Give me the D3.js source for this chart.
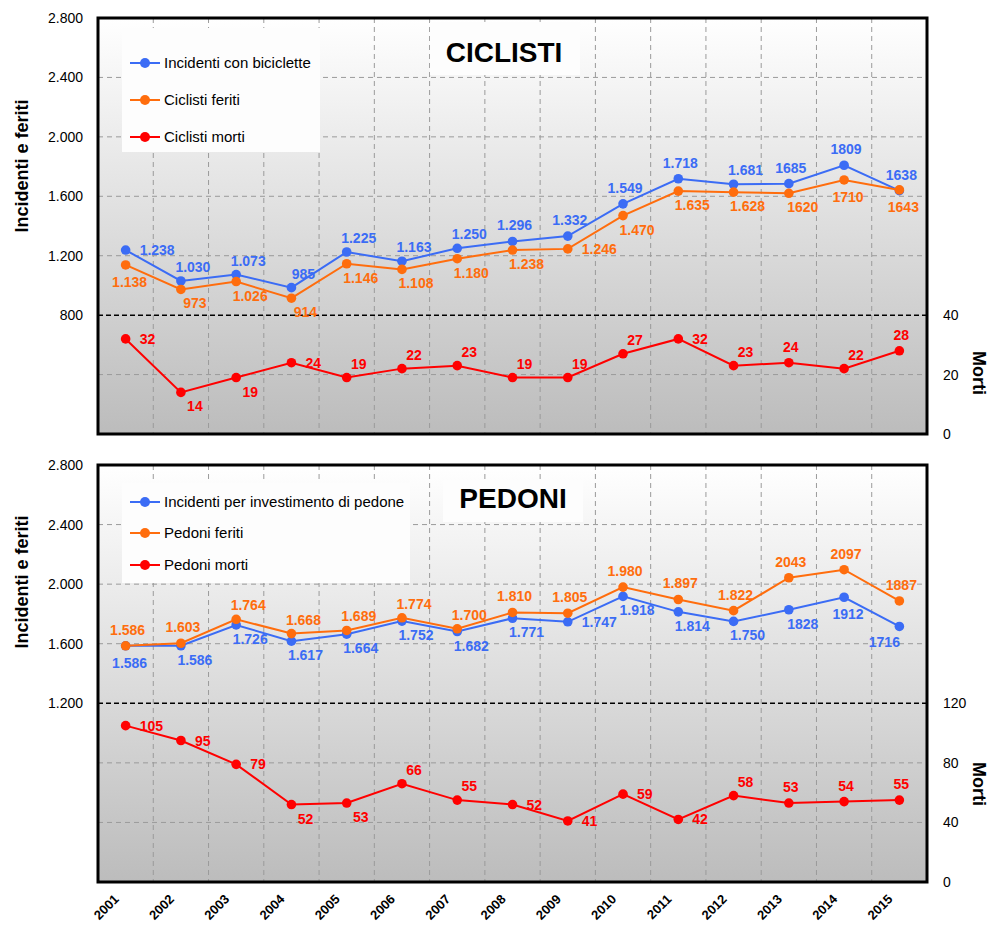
<!DOCTYPE html>
<html>
<head>
<meta charset="utf-8">
<script src="https://cdn.jsdelivr.net/npm/d3@7"></script>
<style>
  body { margin: 0; background: #fff; }
  text { font-family: "Liberation Sans", Arial, sans-serif; }
</style>
</head>
<body>
<svg width="991" height="925"></svg>
<script>
// data
var years = ["2001","2002","2003","2004","2005","2006","2007","2008","2009","2010","2011","2012","2013","2014","2015"];

var cicIncidenti = [1238, 1030, 1073, 985, 1225, 1163, 1250, 1296, 1332, 1549, 1718, 1681, 1685, 1809, 1638];
var cicFeriti    = [1138, 973, 1026, 914, 1146, 1108, 1180, 1238, 1246, 1470, 1635, 1628, 1620, 1710, 1643];
var cicMorti     = [32, 14, 19, 24, 19, 22, 23, 19, 19, 27, 32, 23, 24, 22, 28];

var pedIncidenti = [1586, 1586, 1726, 1617, 1664, 1752, 1682, 1771, 1747, 1918, 1814, 1750, 1828, 1912, 1716];
var pedFeriti    = [1586, 1603, 1764, 1668, 1689, 1774, 1700, 1810, 1805, 1980, 1897, 1822, 2043, 2097, 1887];
var pedMorti     = [105, 95, 79, 52, 53, 66, 55, 52, 41, 59, 42, 58, 53, 54, 55];

// label placement codes (r = right, a = above, A = straight above, b = below, B = straight below, c = below left)
var cicIncPos = ["r","a","a","a","a","a","a","A","A","A","A","a","A","A","A"];
var cicFerPos = ["B","b","b","b","b","b","b","b","r","b","b","b","b","B","B"];
var cicMorPos = ["r","b","b","r","a","a","a","a","a","a","r","a","A","a","A"];
var pedIncPos = ["B","b","b","b","b","b","b","b","r","b","b","b","b","B","c"];
var pedFerPos = ["A","A","a","a","a","a","a","A","A","A","A","A","A","A","A"];
var pedMorPos = ["r","r","r","b","b","a","a","r","r","r","r","a","A","A","A"];

var leftTicksCic = [800, 1200, 1600, 2000, 2400, 2800];
var leftTicksPed = [1200, 1600, 2000, 2400, 2800];
var rightTicksCic = [0, 20, 40];
var rightTicksPed = [0, 40, 80, 120];

var BLUE = "#3b6cf5", ORANGE = "#ff6d0d", RED = "#ff0000";

var svg = d3.select("svg");

var itFormat = d3.formatLocale({decimal: ",", thousands: ".", grouping: [3], currency: ["", ""]}).format(",d");
// the last three years are written without the thousands separator
function labelText(v, i) {
    return i >= 12 ? String(v) : itFormat(v);
}

var offsets = {
    r: {anchor: "start",  dx: 14, dy: 5},
    a: {anchor: "middle", dx: 12, dy: -9},
    A: {anchor: "middle", dx: 2,  dy: -11},
    b: {anchor: "middle", dx: 14, dy: 19},
    B: {anchor: "middle", dx: 4,  dy: 22},
    c: {anchor: "middle", dx: -15, dy: 21}
};

var x = d3.scaleBand().domain(years).range([98, 927]).padding(0);

// gradient for the plot area
var defs = svg.append("defs");
var grad = defs.append("linearGradient").attr("id", "bg").attr("x1", 0).attr("y1", 0).attr("x2", 0).attr("y2", 1);
grad.append("stop").attr("offset", "0%").attr("stop-color", "#ffffff");
grad.append("stop").attr("offset", "100%").attr("stop-color", "#bcbcbc");

function drawPanel(cfg) {
    var top = cfg.top, bottom = cfg.bottom;
    var y = d3.scaleLinear().domain([0, 2800]).range([bottom, top]);
    var yR = d3.scaleLinear().domain([0, cfg.mortiMax]).range([bottom, y(cfg.split)]);

    var g = svg.append("g");

    g.append("rect")
        .attr("x", 98).attr("y", top)
        .attr("width", 829).attr("height", bottom - top)
        .attr("fill", "url(#bg)");

    // vertical grid
    g.append("g")
        .selectAll("line")
        .data(years.slice(1))
        .enter()
        .append("line")
        .attr("x1", function (d) { return x(d); })
        .attr("x2", function (d) { return x(d); })
        .attr("y1", top).attr("y2", bottom)
        .style("stroke", "#9a9a9a")
        .style("stroke-dasharray", "5,4");

    // horizontal grid (upper part)
    g.append("g")
        .selectAll("line")
        .data(cfg.leftTicks.filter(function (d) { return d > cfg.split && d < 2800; }))
        .enter()
        .append("line")
        .attr("x1", 98).attr("x2", 927)
        .attr("y1", function (d) { return y(d); })
        .attr("y2", function (d) { return y(d); })
        .style("stroke", "#9a9a9a")
        .style("stroke-dasharray", "5,4");

    // horizontal grid (morti part)
    g.append("g")
        .selectAll("line")
        .data(cfg.rightTicks.filter(function (d) { return d > 0 && d < cfg.mortiMax; }))
        .enter()
        .append("line")
        .attr("x1", 98).attr("x2", 927)
        .attr("y1", function (d) { return yR(d); })
        .attr("y2", function (d) { return yR(d); })
        .style("stroke", "#9a9a9a")
        .style("stroke-dasharray", "5,4");

    // separator line
    g.append("line")
        .attr("x1", 98).attr("x2", 927)
        .attr("y1", y(cfg.split)).attr("y2", y(cfg.split))
        .style("stroke", "#000")
        .style("stroke-width", 1.5)
        .style("stroke-dasharray", "5,3");

    // legend box and title box
    g.append("rect")
        .attr("x", 122).attr("y", top + cfg.legendBox[0])
        .attr("width", cfg.legendBox[1]).attr("height", cfg.legendBox[2])
        .attr("fill", "#fdfdfd");
    g.append("rect")
        .attr("x", cfg.titleBox[0]).attr("y", top + cfg.titleBox[1])
        .attr("width", cfg.titleBox[2]).attr("height", cfg.titleBox[3])
        .attr("fill", "#fdfdfd");

    g.append("text")
        .attr("x", cfg.titleX).attr("y", top + cfg.titleDy)
        .attr("text-anchor", "middle")
        .style("font-weight", "bold")
        .style("font-size", "28px")
        .text(cfg.title);

    // legend
    var leg = g.append("g")
        .selectAll("g")
        .data(cfg.legend)
        .enter()
        .append("g")
        .attr("transform", function (d, i) { return "translate(0," + (top + cfg.legendY[i]) + ")"; });
    leg.append("line")
        .attr("x1", 130).attr("x2", 160).attr("y1", 0).attr("y2", 0)
        .style("stroke", function (d) { return d.color; })
        .style("stroke-width", 2);
    leg.append("circle")
        .attr("cx", 145).attr("cy", 0).attr("r", 5)
        .attr("fill", function (d) { return d.color; });
    leg.append("text")
        .attr("x", 164).attr("y", 5)
        .style("font-size", "15px")
        .text(function (d) { return d.name; });

    // series
    var series = [
        {values: cfg.incidenti, pos: cfg.incPos, color: BLUE, scale: y},
        {values: cfg.feriti, pos: cfg.ferPos, color: ORANGE, scale: y},
        {values: cfg.morti, pos: cfg.morPos, color: RED, scale: yR}
    ];
    if (cfg.orangeOnTop) series = [series[0], series[2], series[1]];

    series.forEach(function (s) {
        var cx = function (d, i) { return x(years[i]) + x.bandwidth() / 2; };
        var cy = function (d) { return s.scale(d); };
        var line = d3.line().x(cx).y(cy);
        var sg = g.append("g");
        sg.append("path")
            .attr("d", line(s.values))
            .style("fill", "none")
            .style("stroke", s.color)
            .style("stroke-width", 2);
        sg.selectAll("circle")
            .data(s.values)
            .enter()
            .append("circle")
            .attr("cx", cx).attr("cy", cy).attr("r", 4.8)
            .attr("fill", s.color);
        sg.selectAll("text")
            .data(s.values)
            .enter()
            .append("text")
            .attr("x", function (d, i) { return cx(d, i) + offsets[s.pos[i]].dx; })
            .attr("y", function (d, i) { return cy(d) + offsets[s.pos[i]].dy; })
            .attr("text-anchor", function (d, i) { return offsets[s.pos[i]].anchor; })
            .style("font-size", "14px")
            .style("font-weight", "bold")
            .style("fill", s.color)
            .text(labelText);
    });

    // frame
    g.append("rect")
        .attr("x", 98).attr("y", top)
        .attr("width", 829).attr("height", bottom - top)
        .attr("fill", "none")
        .style("stroke", "#000")
        .style("stroke-width", 3);

    // axes
    var left = g.append("g")
        .attr("transform", "translate(83,0)")
        .call(d3.axisLeft(y).tickValues(cfg.leftTicks).tickFormat(itFormat).tickSize(0).tickPadding(0));
    left.select(".domain").remove();
    left.selectAll("text").style("font-size", "14px").style("font-family", "'Liberation Sans', Arial, sans-serif").attr("fill", "#000");

    var right = g.append("g")
        .attr("transform", "translate(943,0)")
        .call(d3.axisRight(yR).tickValues(cfg.rightTicks).tickSize(0).tickPadding(0));
    right.select(".domain").remove();
    right.selectAll("text").style("font-size", "14px").style("font-family", "'Liberation Sans', Arial, sans-serif").attr("fill", "#000");

    g.append("text")
        .attr("transform", "translate(28," + cfg.leftTitleY + ") rotate(-90)")
        .attr("text-anchor", "middle")
        .style("font-weight", "bold")
        .style("font-size", "18px")
        .text("Incidenti e feriti");

    g.append("text")
        .attr("transform", "translate(973," + cfg.rightTitleY + ") rotate(90)")
        .attr("text-anchor", "middle")
        .style("font-weight", "bold")
        .style("font-size", "18px")
        .text("Morti");
}

drawPanel({
    top: 18, bottom: 434, split: 800, mortiMax: 40,
    leftTicks: leftTicksCic, rightTicks: rightTicksCic,
    incidenti: cicIncidenti, feriti: cicFeriti, morti: cicMorti,
    incPos: cicIncPos, ferPos: cicFerPos, morPos: cicMorPos,
    legend: [{name: "Incidenti con biciclette", color: BLUE},
             {name: "Ciclisti feriti", color: ORANGE},
             {name: "Ciclisti morti", color: RED}],
    legendY: [45, 82, 119],
    legendBox: [10, 198, 124],
    titleBox: [430, 4, 150, 53],
    title: "CICLISTI", titleX: 504, titleDy: 44,
    leftTitleY: 166, rightTitleY: 373,
    orangeOnTop: false
});

drawPanel({
    top: 465, bottom: 882, split: 1200, mortiMax: 120,
    leftTicks: leftTicksPed, rightTicks: rightTicksPed,
    incidenti: pedIncidenti, feriti: pedFeriti, morti: pedMorti,
    incPos: pedIncPos, ferPos: pedFerPos, morPos: pedMorPos,
    legend: [{name: "Incidenti per investimento di pedone", color: BLUE},
             {name: "Pedoni feriti", color: ORANGE},
             {name: "Pedoni morti", color: RED}],
    legendY: [37, 68, 100],
    legendBox: [18, 288, 100],
    titleBox: [443, 15, 140, 42],
    title: "PEDONI", titleX: 513, titleDy: 43,
    leftTitleY: 582, rightTitleY: 784,
    orangeOnTop: true
});

// x axis labels
svg.append("g")
    .selectAll("text")
    .data(years)
    .enter()
    .append("text")
    .attr("transform", function (d) {
        return "translate(" + (x(d) + x.bandwidth() / 2 - 6) + ",900) rotate(-45)";
    })
    .attr("text-anchor", "end")
    .style("font-size", "13px")
    .style("font-weight", "bold")
    .text(function (d) { return d; });
</script>
</body>
</html>
